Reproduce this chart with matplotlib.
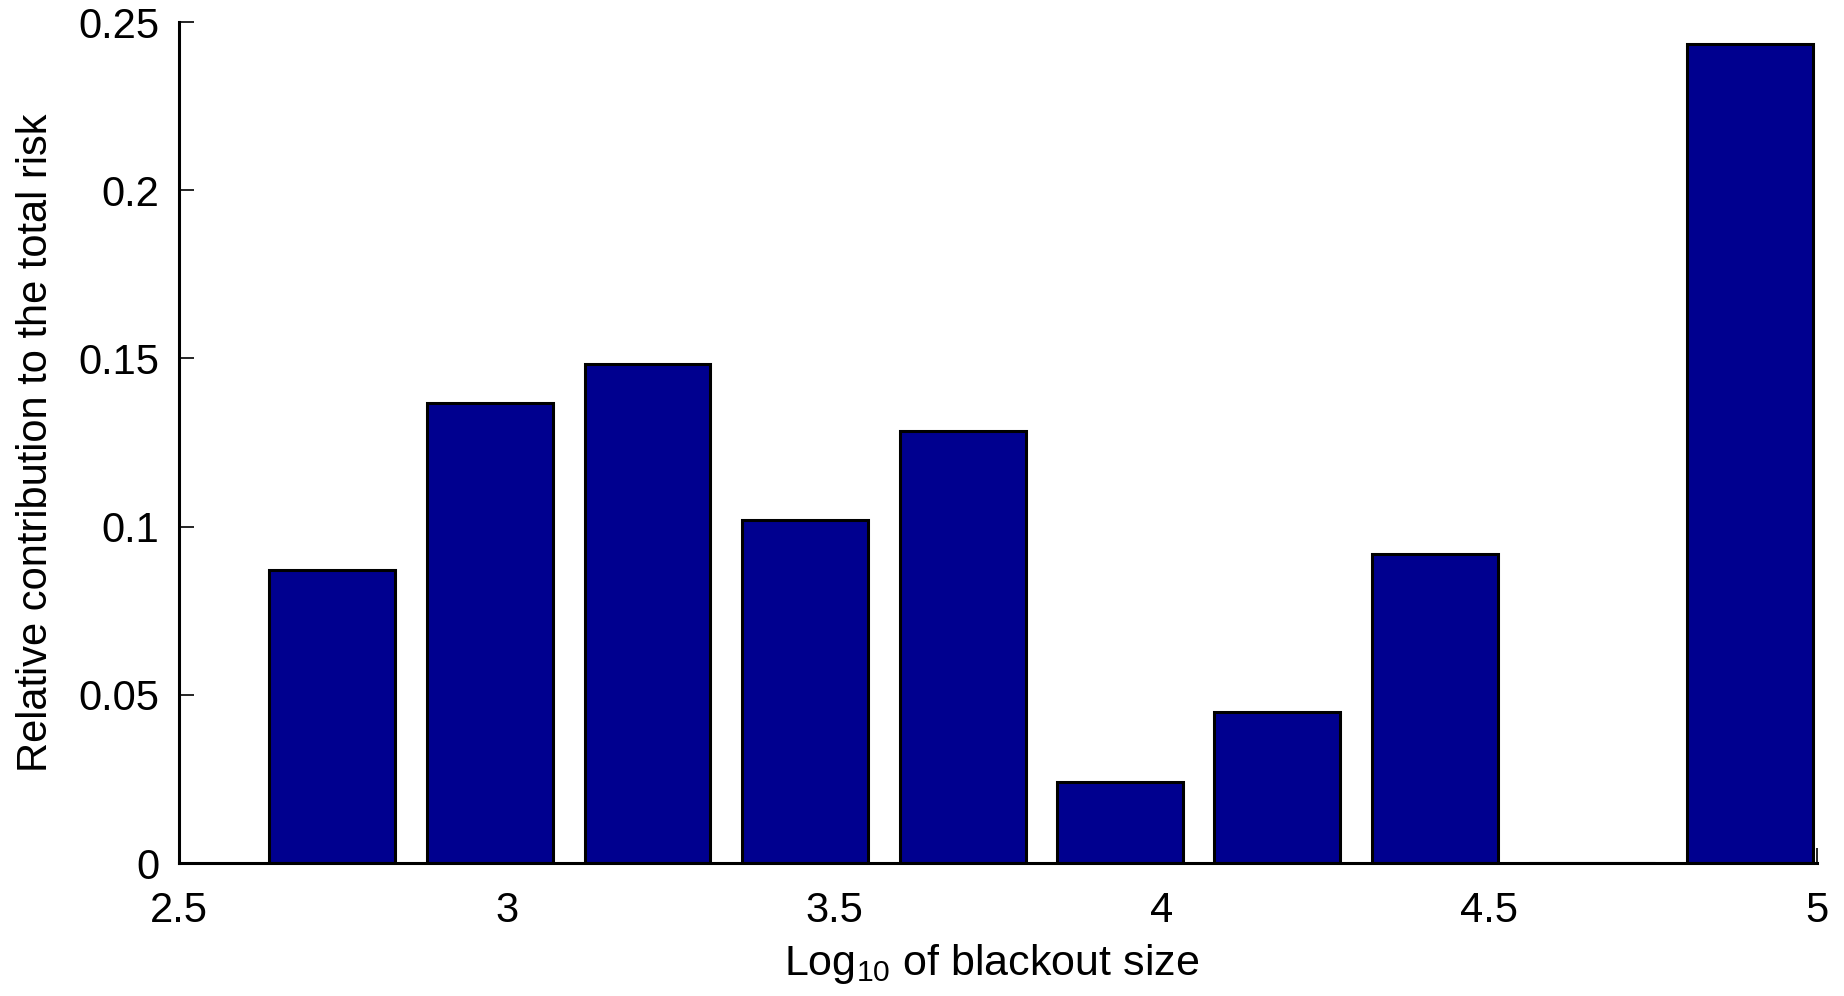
import numpy as np
import matplotlib
matplotlib.use("Agg")
import matplotlib.pyplot as plt

# bin centres (log10 of blackout size) and relative risk contribution
bin_centers = [2.734, 2.974, 3.215, 3.455, 3.696, 3.936, 4.176, 4.417, 4.657, 4.898]
risk_share = [0.0871, 0.1367, 0.1483, 0.1021, 0.1283, 0.0241, 0.0448, 0.0920, 0.0, 0.2434]
xticks = [2.5, 3, 3.5, 4, 4.5, 5]
xticklabels = ['2.5', '3', '3.5', '4', '4.5', '5']
yticks = [0, 0.05, 0.1, 0.15, 0.2, 0.25]
yticklabels = ['0', '0.05', '0.1', '0.15', '0.2', '0.25']

plt.rcParams['font.family'] = ['Liberation Sans', 'DejaVu Sans']
plt.rcParams['mathtext.fontset'] = 'custom'
plt.rcParams['mathtext.rm'] = 'Liberation Sans'
plt.rcParams['mathtext.it'] = 'Liberation Sans'

fig = plt.figure(figsize=(18.44, 9.96), dpi=100)
ax = fig.add_axes([0.0971, 0.1335, 0.8883, 0.8444])

width = 0.8 * (bin_centers[1] - bin_centers[0])
ax.bar(bin_centers, risk_share, width=width, color='#00008f',
       edgecolor='black', linewidth=2.2)

ax.set_xlim(2.5, 5)
ax.set_ylim(0, 0.25)
ax.set_xticks(xticks)
ax.set_xticklabels(xticklabels)
ax.set_yticks(yticks)
ax.set_yticklabels(yticklabels)

ax.spines['top'].set_visible(False)
ax.spines['right'].set_visible(False)
ax.spines['left'].set_linewidth(2.2)
ax.spines['bottom'].set_linewidth(2.2)
ax.set_axisbelow(True)
ax.tick_params(direction='in', length=11, width=1.2, labelsize=30)
ax.tick_params(axis='x', pad=20)
ax.tick_params(axis='y', pad=14)

ax.set_xlabel('Log$_{10}$ of blackout size', fontsize=31)
ax.xaxis.set_label_coords(0.496, -0.094)
ax.set_ylabel('Relative contribution to the total risk', fontsize=30)
ax.yaxis.set_label_coords(-0.075, 0.5)

fig.savefig('out.png', dpi=100)
